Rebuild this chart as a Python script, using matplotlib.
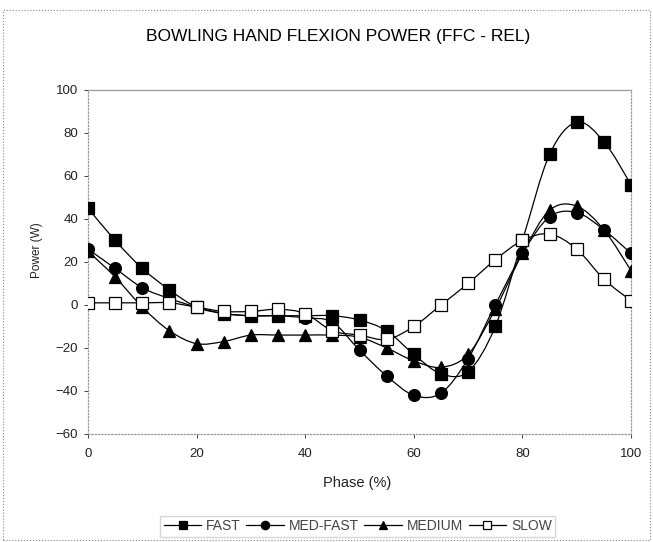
import numpy as np
import matplotlib
matplotlib.use('Agg')
import matplotlib.pyplot as plt
from matplotlib.path import Path
from matplotlib.patches import PathPatch, Rectangle
from matplotlib.lines import Line2D

plt.rcParams['font.family'] = ['Liberation Sans', 'DejaVu Sans']

# phase (%) and power (W) per bowling speed group
phase = [0, 5, 10, 15, 20, 25, 30, 35, 40, 45, 50, 55, 60, 65, 70, 75, 80, 85, 90, 95, 100]
fast = [45, 30, 17, 7, -1, -4, -5, -5, -5, -5, -7, -12, -23, -32, -31, -10, 30, 70, 85, 76, 56]
med_fast = [26, 17, 8, 3, -1, -4, -5, -5, -6, -8, -21, -33, -42, -41, -25, 0, 24, 41, 43, 35, 24]
medium = [25, 13, -1, -12, -18, -17, -14, -14, -14, -14, -15, -20, -26, -29, -23, -2, 24, 44, 46, 35, 16]
slow = [1, 1, 1, 1, -1, -3, -3, -2, -4, -12, -14, -16, -10, 0, 10, 21, 30, 33, 26, 12, 2]

names = ['FAST', 'MED-FAST', 'MEDIUM', 'SLOW']
series = [fast, med_fast, medium, slow]
markers = ['s', 'o', '^', 's']
faces = ['black', 'black', 'black', 'white']


def smooth_path(x, y):
    # excel style smoothed line: bezier segments through the data points
    pts = np.column_stack([x, y]).astype(float)
    n = len(pts)
    verts = [pts[0]]
    codes = [Path.MOVETO]
    for i in range(n - 1):
        p0 = pts[i - 1] if i > 0 else pts[i]
        p1 = pts[i]
        p2 = pts[i + 1]
        p3 = pts[i + 2] if i + 2 < n else pts[i + 1]
        verts += [p1 + (p2 - p0) / 6, p2 - (p3 - p1) / 6, p2]
        codes += [Path.CURVE4] * 3
    return Path(verts, codes)


fig = plt.figure(figsize=(6.53, 5.42), dpi=100)
ax = fig.add_axes([0.1348, 0.1993, 0.8315, 0.6347])

handles = []
for name, ys, m, fc in zip(names, series, markers, faces):
    ax.add_patch(PathPatch(smooth_path(phase, ys), facecolor='none',
                           edgecolor='black', lw=0.9, zorder=2))
    ax.plot(phase, ys, linestyle='none', marker=m, ms=8 if m != 'o' else 8.5,
            mfc=fc, mec='black', mew=0.9, zorder=3)
    handles.append(Line2D([], [], color='black', lw=0.9, marker=m, ms=6,
                          mfc=fc, mec='black', mew=0.9))

ax.set_xlim(0, 100)
ax.set_ylim(-60, 100)
ax.set_xticks(range(0, 101, 20))
ax.set_yticks(range(-60, 101, 20))
ax.tick_params(labelsize=9.5, colors='#222222', length=3, width=0.6)
ax.tick_params(axis='y', pad=4)
ax.tick_params(axis='x', pad=7)
for s in ax.spines.values():
    s.set_color('#999999')
    s.set_linestyle(':')
    s.set_linewidth(0.9)
ax.spines['top'].set_linestyle('-')

fig.text(0.518, 0.932, 'BOWLING HAND FLEXION POWER (FFC - REL)', ha='center',
         va='center', fontsize=12.5)
fig.text(0.057, 0.539, 'Power (W)', rotation=90, ha='center', va='center',
         fontsize=8.5, color='#222222')
fig.text(0.547, 0.109, 'Phase (%)', ha='center', va='center', fontsize=10.5,
         color='#222222')

leg = fig.legend(handles, names, loc='center', bbox_to_anchor=(0.548, 0.029),
                 ncol=4, fontsize=10, frameon=True, fancybox=False,
                 handlelength=2.7, handletextpad=0.35, columnspacing=0.4,
                 borderpad=0.25, edgecolor='#cccccc')
for t in leg.get_texts():
    t.set_color('#444444')

fig.patches.append(Rectangle((0.005, 0.003), 0.99, 0.978, transform=fig.transFigure,
                             fill=False, edgecolor='#888888', lw=0.8, ls=':'))

fig.savefig('out.png', dpi=100)
